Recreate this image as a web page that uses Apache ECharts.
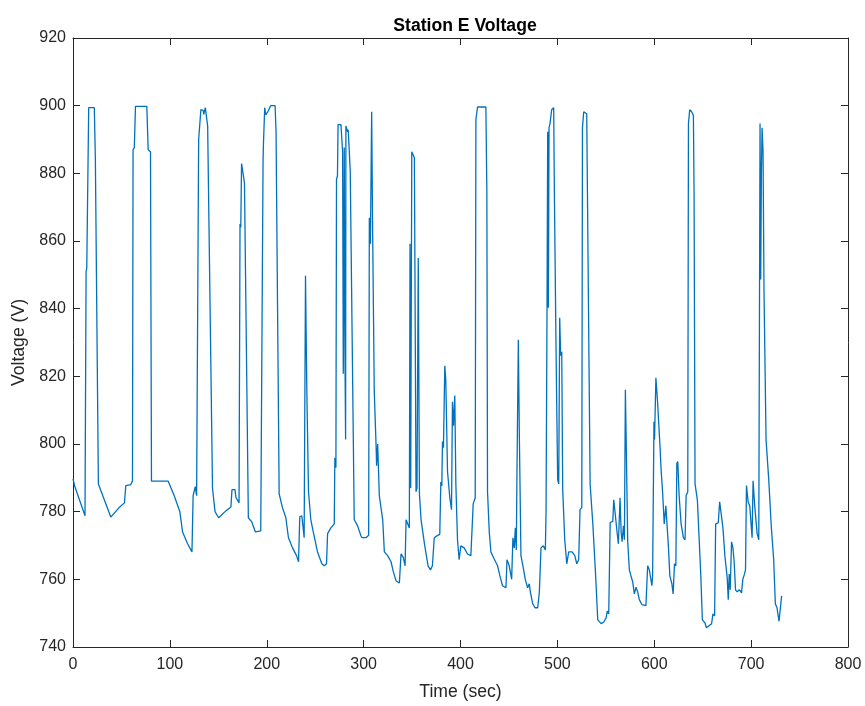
<!DOCTYPE html>
<html>
<head>
<meta charset="utf-8">
<script src="https://cdn.jsdelivr.net/npm/echarts@6/dist/echarts.min.js"></script>
<style>
html,body{margin:0;padding:0;background:#fff;}
#chart{width:865px;height:706px;}
</style>
</head>
<body>
<div id="chart"></div>
<script>
var chartTitle = "Station E Voltage";
var xAxisName = "Time (sec)";
var yAxisName = "Voltage (V)";
var xTicks = [0, 100, 200, 300, 400, 500, 600, 700, 800];
var yTicks = [740, 760, 780, 800, 820, 840, 860, 880, 900, 920];

var times = [
0,1.7,12.4,13.5,14.2,16.2,22,23.1,23.8,26.2,39,47.6,53.1,54.5,59.7,61.4,62,63.3,64.5,76.2,
77.6,80,81,98.3,104.5,110.3,113.1,118.3,122.8,124,126.2,127.6,129.7,131,132,134.4,135,136.6,138,139,
144,146.6,150.3,158,163,164.1,167.2,168.2,171.4,172.4,173.2,174,177,181,184.5,188.3,193.8,195,196.2,196.6,
197.9,199,201.7,204,208.6,209.6,212.8,216.2,219.7,222.4,226.6,230.7,232.8,234.1,236.2,236.9,238.6,240,241.4,243.1,
245.5,248,252.4,256.9,259.3,261.7,262.8,266.2,269.7,270.3,271.4,272,273,273.6,276.6,278.3,279,280,280.7,281.4,
281.7,283.4,284.1,286.2,290.3,293.8,297.2,298.3,302.4,305.2,305.9,307,308.3,309.3,311,312.8,313.4,314.5,316.2,319.7,
321.4,324.8,328.3,330.7,333.4,336.9,338.6,341,342.8,343.8,345.5,347.2,347.9,348.6,349.7,352.4,354.1,355.1,356.4,357.6,
359.3,362.8,366.5,369,371,372.9,376.4,378.6,379.7,380.7,381.4,382.4,383.8,384.8,386.6,389,390.7,391.7,392.8,394.1,
395.2,396.9,398.6,400.3,403.8,407.2,410.7,412.4,413.1,415.2,415.9,417.6,426.2,427.2,427.9,429.7,431.4,434.8,438.3,440.7,
443.4,446.9,448,450.3,452.8,454.1,455.5,456.6,457.6,458.3,459.7,460.7,462.4,464.8,466.9,469.3,471,472.1,474.5,476.9,
479.7,481.4,483.1,485.5,487.6,488.3,489.3,490,490.7,491.4,492.4,494.1,496.2,496.9,498.6,500.3,501.4,502.4,503.4,504.5,
505.5,507.6,509.7,511.7,515.2,518,520,522,523.4,525.2,525.9,527.2,530.3,531.4,533.8,536.6,539.3,541.7,545.2,547.9,
550.3,551.5,553,554.5,557.2,558.2,559.9,561.6,563,564.7,565.8,566.8,568.2,569.2,570.2,570.9,572.6,574.3,576,577.7,
579.5,581.2,582.9,584.6,587.3,591.4,592.4,593.2,594.9,597.6,598.3,599.7,600.3,601.7,603.4,604.4,605.8,607.2,608.6,610.3,
612,613,614.7,616.1,618.2,619.5,620.9,622.3,623.3,624.3,625.7,627.7,630.1,631.8,632.9,634.6,635.3,636.6,638.6,640.4,
641.1,642.1,644.5,646.2,647.9,649.7,652.4,653.8,656.5,659.2,660.6,662.3,663.4,666.1,667.5,668.8,670.9,672.9,675.3,676.4,
677.4,678.4,679.8,681.2,682.5,683.9,685.6,688,690.1,691.4,693.2,694.2,695.2,696.9,698.6,701,702,703.8,706.2,707.9,
709.2,709.9,710.6,711.3,712.3,713.3,715.4,718.2,720.9,723.3,725,726.7,728.8,731.5
];
var volts = [
789.7,787.6,778.8,851,852,899.4,899.4,884,883.5,788.2,778.4,781.2,782.6,787.7,788,789.1,887,887.6,899.8,899.8,
887,886.4,789,789,784.7,780,774,770.5,768.1,784.7,787.4,784.7,890,890.3,898.8,898.6,897.4,899.4,899.2,894,
787,780,778.2,780.3,781.4,786.5,786.5,784.2,782.6,865,864,882.9,877.2,778.2,777,774,774.3,774.6,884,888.8,
899.4,897.3,898.5,900,900,892.3,785.3,781.2,778.2,772.3,769.3,767,765.2,778.5,778.8,777,772.3,849.7,815.4,785.9,
777.6,774,768.1,764.6,764,764.6,773.5,775.2,776.4,795.9,793,878.1,879.3,894.4,894.4,886.4,820.8,887.6,827.3,801.3,
894,892.3,892.9,880.5,777.6,775.8,772.9,772.3,772.3,773,866.9,859.2,898.2,862.7,815.4,800,793.6,800,784.7,777.6,
768.1,767,765.2,762.2,759.6,758.9,767.5,766.4,764,777.6,777.4,775.2,859.2,787,886.4,884.6,785.9,787,855,785.3,
777.6,770.5,764,762.8,764,772.3,773,773.3,788.8,787.6,800.7,798.9,823.1,819,791.8,784.1,780.6,812.5,805.4,814.3,
788.2,771.7,765.8,769.9,769.3,767.5,767,767.5,782.3,784.1,895.9,899.6,899.6,874.6,785.9,774,768.1,766,764,761,
758.1,757.5,765.8,764,760,772.3,769.3,775.2,768.7,791.8,830.8,803.6,767,763.4,759.9,757.5,758.7,756.3,752.8,751.6,
751.6,756.3,769.3,769.9,768.7,780,839.1,892.3,840.3,893.5,894.7,898.8,899.4,874.6,828.5,789.4,788.2,837.3,826.1,827.3,
786.5,771.7,764.6,768.1,768.1,767,764.6,765.8,780.6,781.2,893.5,898.2,897.6,862.7,788.2,776.4,762.2,748,746.9,747.4,
748.6,750.6,749.8,776.8,777.1,783.5,778.8,774,770.5,784.1,774,771.1,775.8,771.7,816,803.6,771.1,762.8,761,759.3,
755.7,757.7,756.3,754,752.5,752.2,752.2,764,762.8,758.1,761,806.6,801.3,819.6,812.5,812,800.1,791.8,785.9,776.4,
781.7,777.1,769.3,761,758.7,755.7,764.6,764,794.2,794.8,784.7,776.4,772.3,771.7,784.7,785.9,894.7,898.8,898.2,897.1,
874.6,788.2,783.5,772.9,762.2,748,747.1,745.7,746.3,746.9,749.8,749.2,776.4,776.7,782.9,780,775.2,767,760.5,754,
761.6,756.9,771.1,769.3,765.2,756.9,756.3,756.9,756,760,761.6,762.8,787.7,782.9,781.7,772.3,789.1,781.4,773.5,771.7,
894.7,848.6,880.5,893.5,886.4,845,801.3,789.4,775.2,765.8,752.8,751.6,747.6,755.1
];

var seriesData = times.map(function (t, i) { return [t, volts[i]]; });

var axisColor = '#262626';
var fontFam = '"Liberation Sans", Arial, Helvetica, sans-serif';

function baseX(extra) {
  return Object.assign({
    type: 'value',
    min: xTicks[0], max: xTicks[xTicks.length - 1], interval: xTicks[1] - xTicks[0],
    axisLine: { show: true, onZero: false, lineStyle: { color: axisColor, width: 1 } },
    axisTick: { show: true, inside: true, length: 7, lineStyle: { color: axisColor } },
    splitLine: { show: false }
  }, extra);
}
function baseY(extra) {
  return Object.assign({
    type: 'value',
    min: yTicks[0], max: yTicks[yTicks.length - 1], interval: yTicks[1] - yTicks[0],
    axisLine: { show: true, onZero: false, lineStyle: { color: axisColor, width: 1 } },
    axisTick: { show: true, inside: true, length: 7, lineStyle: { color: axisColor } },
    splitLine: { show: false }
  }, extra);
}

var chart = echarts.init(document.getElementById('chart'), null, { renderer: 'canvas' });
chart.setOption({
  animation: false,
  backgroundColor: '#ffffff',
  title: {
    text: chartTitle, left: 460, top: 12, textAlign: 'center',
    textStyle: { fontFamily: fontFam, fontSize: 17.6, fontWeight: 'bold', color: '#000' }
  },
  grid: { left: 73, right: 17, top: 38, bottom: 58, containLabel: false },
  xAxis: [
    baseX({
      position: 'bottom',
      name: xAxisName, nameLocation: 'middle', nameGap: 36,
      nameTextStyle: { fontFamily: fontFam, fontSize: 17.6, color: axisColor },
      axisLabel: { show: true, margin: 10, fontFamily: fontFam, fontSize: 16, color: axisColor }
    }),
    baseX({ position: 'top', axisLabel: { show: false } })
  ],
  yAxis: [
    baseY({
      position: 'left',
      name: yAxisName, nameLocation: 'middle', nameGap: 45, nameRotate: 90,
      nameTextStyle: { fontFamily: fontFam, fontSize: 17.6, color: axisColor },
      axisLabel: { show: true, margin: 7, fontFamily: fontFam, fontSize: 16, color: axisColor }
    }),
    baseY({ position: 'right', axisLabel: { show: false } })
  ],
  series: [{
    type: 'line',
    xAxisIndex: 0, yAxisIndex: 0,
    data: seriesData,
    showSymbol: false,
    symbol: 'none',
    lineStyle: { color: '#0072BD', width: 1.3 },
    itemStyle: { color: '#0072BD' }
  }]
});
</script>
</body>
</html>
